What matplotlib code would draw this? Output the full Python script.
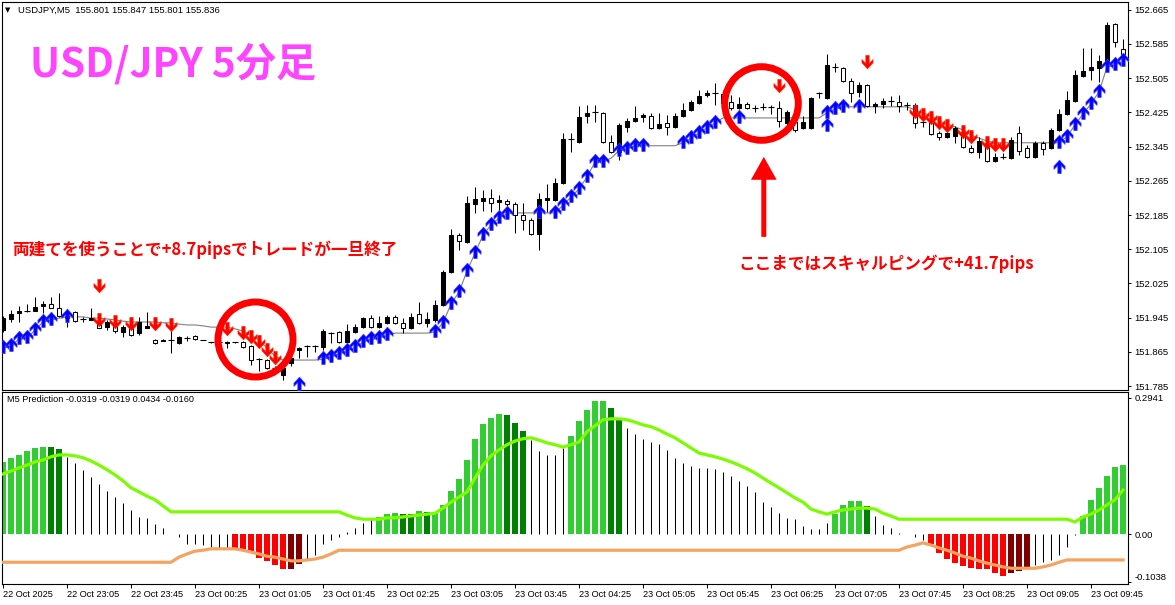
import numpy as np
import matplotlib.pyplot as plt
from matplotlib.path import Path

plt.rcParams['font.family'] = ['Liberation Sans', 'DejaVu Sans']

# ---- USDJPY M5 candles (bar index 0 = 22 Oct 22:25) ----
opens = [
    151.916, 151.942, 151.956, 151.961, 151.961, 151.972, 151.977, 151.968, 151.949, 151.958,
    151.942, 151.940, 151.937, 151.923, 151.933, 151.912, 151.923, 151.909, 151.921, 151.893,
    151.891, 151.893, 151.886, 151.897, 151.902, 151.893, 151.888, 151.888, 151.886, 151.888,
    151.888, 151.879, 151.848, 151.846, 151.827, 151.811, 151.839, 151.869, 151.879, 151.879,
    151.876, 151.909, 151.912, 151.888, 151.912, 151.923, 151.944, 151.923, 151.933, 151.947,
    151.933, 151.921, 151.954, 151.933, 151.940, 151.975, 152.052, 152.138, 152.122, 152.211,
    152.218, 152.225, 152.215, 152.218, 152.211, 152.185, 152.173, 152.141, 152.220, 152.220,
    152.260, 152.363, 152.356, 152.417, 152.426, 152.424, 152.356, 152.332, 152.391, 152.405,
    152.414, 152.417, 152.389, 152.400, 152.391, 152.417, 152.431, 152.447, 152.466, 152.470,
    152.468, 152.449, 152.435, 152.445, 152.435, 152.438, 152.438, 152.435, 152.400, 152.403,
    152.389, 152.389, 152.470, 152.459, 152.531, 152.529, 152.499, 152.473, 152.489, 152.440,
    152.445, 152.452, 152.449, 152.442, 152.442, 152.403, 152.403, 152.377, 152.368, 152.370,
    152.379, 152.342, 152.332, 152.354, 152.311, 152.321, 152.318, 152.377, 152.342, 152.321,
    152.354, 152.342, 152.384, 152.421, 152.452, 152.510, 152.524, 152.529, 152.543, 152.632, 152.573,
]
highs = [
    151.949, 151.963, 151.972, 151.977, 151.993, 151.984, 151.993, 152.003, 151.958, 151.961,
    151.947, 151.968, 151.951, 151.940, 151.940, 151.928, 151.928, 151.947, 151.958, 151.895,
    151.895, 151.916, 151.902, 151.902, 151.904, 151.894, 151.889, 151.889, 151.890, 151.889,
    151.890, 151.881, 151.851, 151.848, 151.832, 151.827, 151.855, 151.876, 151.881, 151.881,
    151.919, 151.912, 151.914, 151.930, 151.930, 151.947, 151.951, 151.949, 151.951, 151.951,
    151.944, 151.956, 151.982, 151.958, 151.986, 152.056, 152.152, 152.143, 152.230, 152.251,
    152.244, 152.246, 152.232, 152.222, 152.215, 152.213, 152.178, 152.237, 152.258, 152.272,
    152.377, 152.377, 152.440, 152.442, 152.442, 152.426, 152.372, 152.400, 152.412, 152.440,
    152.424, 152.424, 152.424, 152.419, 152.424, 152.447, 152.454, 152.477, 152.477, 152.494,
    152.477, 152.466, 152.461, 152.449, 152.442, 152.447, 152.442, 152.452, 152.431, 152.412,
    152.417, 152.461, 152.473, 152.562, 152.541, 152.531, 152.506, 152.496, 152.492, 152.449,
    152.459, 152.463, 152.466, 152.449, 152.447, 152.414, 152.407, 152.382, 152.382, 152.393,
    152.384, 152.349, 152.368, 152.356, 152.330, 152.330, 152.368, 152.393, 152.349, 152.358,
    152.358, 152.389, 152.433, 152.475, 152.524, 152.576, 152.576, 152.559, 152.637, 152.634, 152.597,
]
lows = [
    151.912, 151.935, 151.935, 151.958, 151.961, 151.956, 151.968, 151.947, 151.923, 151.935,
    151.935, 151.940, 151.921, 151.916, 151.909, 151.900, 151.902, 151.904, 151.921, 151.883,
    151.890, 151.862, 151.883, 151.890, 151.893, 151.892, 151.887, 151.887, 151.874, 151.887,
    151.874, 151.834, 151.820, 151.825, 151.818, 151.799, 151.832, 151.851, 151.853, 151.865,
    151.869, 151.886, 151.886, 151.886, 151.909, 151.921, 151.921, 151.921, 151.930, 151.930,
    151.909, 151.919, 151.930, 151.923, 151.935, 151.972, 152.049, 152.103, 152.120, 152.190,
    152.194, 152.192, 152.197, 152.206, 152.143, 152.150, 152.138, 152.103, 152.192, 152.218,
    152.258, 152.332, 152.354, 152.400, 152.403, 152.354, 152.330, 152.314, 152.379, 152.403,
    152.403, 152.386, 152.386, 152.372, 152.389, 152.414, 152.428, 152.445, 152.461, 152.442,
    152.445, 152.431, 152.433, 152.433, 152.426, 152.431, 152.421, 152.391, 152.389, 152.379,
    152.386, 152.386, 152.459, 152.456, 152.520, 152.496, 152.449, 152.461, 152.438, 152.424,
    152.435, 152.440, 152.426, 152.431, 152.389, 152.391, 152.372, 152.360, 152.365, 152.354,
    152.342, 152.330, 152.318, 152.309, 152.309, 152.316, 152.316, 152.325, 152.318, 152.318,
    152.325, 152.339, 152.382, 152.419, 152.449, 152.508, 152.501, 152.496, 152.541, 152.578, 152.555,
]
closes = [
    151.944, 151.954, 151.961, 151.961, 151.970, 151.977, 151.968, 151.949, 151.944, 151.937,
    151.942, 151.944, 151.921, 151.935, 151.914, 151.923, 151.904, 151.935, 151.926, 151.886,
    151.893, 151.893, 151.900, 151.897, 151.895, 151.893, 151.888, 151.888, 151.888, 151.888,
    151.876, 151.846, 151.848, 151.827, 151.827, 151.827, 151.851, 151.874, 151.879, 151.879,
    151.914, 151.909, 151.888, 151.914, 151.923, 151.944, 151.923, 151.933, 151.947, 151.933,
    151.921, 151.947, 151.933, 151.942, 151.975, 152.052, 152.138, 152.124, 152.213, 152.222,
    152.225, 152.213, 152.220, 152.211, 152.185, 152.173, 152.141, 152.222, 152.225, 152.260,
    152.363, 152.363, 152.414, 152.424, 152.426, 152.356, 152.332, 152.396, 152.405, 152.412,
    152.419, 152.389, 152.398, 152.391, 152.417, 152.431, 152.449, 152.463, 152.470, 152.470,
    152.447, 152.435, 152.445, 152.435, 152.435, 152.438, 152.438, 152.405, 152.426, 152.384,
    152.403, 152.459, 152.470, 152.536, 152.531, 152.499, 152.470, 152.489, 152.440, 152.445,
    152.452, 152.452, 152.440, 152.442, 152.400, 152.403, 152.375, 152.368, 152.377, 152.389,
    152.344, 152.332, 152.358, 152.311, 152.321, 152.321, 152.360, 152.335, 152.321, 152.354,
    152.339, 152.384, 152.421, 152.454, 152.513, 152.522, 152.531, 152.545, 152.630, 152.590, 152.562,
]

# grey trailing line
trail = [
    151.874, 151.879, 151.895, 151.897, 151.916, 151.935, 151.940, 151.944, 151.947, 151.947,
    151.947, 151.944, 151.944, 151.942, 151.940, 151.937, 151.935, 151.935, 151.935, 151.935,
    151.933, 151.933, 151.930, 151.928, 151.928, 151.926, 151.923, 151.923, 151.923, 151.919,
    151.914, 151.904, 151.893, 151.874, 151.855, 151.846, 151.846, 151.846, 151.846, 151.846,
    151.848, 151.853, 151.860, 151.867, 151.876, 151.888, 151.895, 151.897, 151.904, 151.909,
    151.909, 151.909, 151.909, 151.909, 151.912, 151.933, 151.977, 152.005, 152.054, 152.096,
    152.138, 152.162, 152.178, 152.188, 152.190, 152.190, 152.190, 152.190, 152.190, 152.190,
    152.208, 152.227, 152.246, 152.274, 152.309, 152.309, 152.318, 152.335, 152.339, 152.347,
    152.347, 152.347, 152.347, 152.347, 152.347, 152.354, 152.365, 152.377, 152.389, 152.400,
    152.412, 152.412, 152.412, 152.412, 152.412, 152.412, 152.412, 152.412, 152.412, 152.412,
    152.412, 152.412, 152.412, 152.424, 152.433, 152.438, 152.438, 152.438, 152.438, 152.438,
    152.438, 152.438, 152.438, 152.438, 152.431, 152.424, 152.417, 152.405, 152.398, 152.391,
    152.384, 152.372, 152.365, 152.358, 152.354, 152.354, 152.354, 152.354, 152.354, 152.354,
    152.354, 152.354, 152.354, 152.368, 152.396, 152.421, 152.445, 152.473, 152.531, 152.536, 152.545,
]

# bars carrying an arrow on the trailing line
buy_idx = [0, 1, 2, 3, 4, 5, 6, 8, 40, 41, 42, 43, 44, 45, 46, 47, 48,
           54, 55, 56, 57, 58, 59, 60, 61, 62, 63, 67, 69, 70, 71, 72, 73, 74, 75,
           77, 78, 79, 80, 85, 86, 87, 88, 89, 92, 103, 104, 105, 107,
           132, 133, 134, 135, 136, 137, 138, 139, 140]
sell_idx = [12, 14, 16, 19, 21, 28, 30, 31, 32, 33, 34,
            114, 115, 116, 117, 118, 120, 121, 123, 124, 125]
# separate signal arrows
sig_buy_idx = [37, 103, 132]
sig_buy_price = [151.787, 152.393, 152.295]
sig_sell_idx = [12, 97, 108]
sig_sell_price = [152.024, 152.492, 152.548]

# ---- M5 Prediction indicator ----
hist = [
    0.156, 0.165, 0.171, 0.180, 0.186, 0.188, 0.188, 0.184, 0.167, 0.154,
    0.139, 0.123, 0.108, 0.093, 0.080, 0.067, 0.052, 0.037, 0.035, 0.022,
    0.013, 0.001, -0.006, -0.022, -0.022, -0.024, -0.028, -0.030, -0.030, -0.030,
    -0.032, -0.039, -0.052, -0.058, -0.067, -0.076, -0.076, -0.065, -0.054, -0.045,
    -0.022, -0.013, -0.006, 0.004, 0.013, 0.024, 0.035, 0.037, 0.043, 0.045,
    0.043, 0.043, 0.050, 0.048, 0.048, 0.063, 0.093, 0.119, 0.160, 0.206,
    0.238, 0.251, 0.260, 0.258, 0.240, 0.223, 0.203, 0.180, 0.171, 0.171,
    0.186, 0.212, 0.245, 0.268, 0.288, 0.288, 0.273, 0.251, 0.229, 0.216,
    0.206, 0.199, 0.195, 0.182, 0.165, 0.154, 0.147, 0.143, 0.143, 0.141,
    0.134, 0.126, 0.115, 0.104, 0.091, 0.069, 0.058, 0.045, 0.035, 0.032,
    0.017, 0.011, 0.011, 0.024, 0.043, 0.063, 0.071, 0.071, 0.061, 0.039,
    0.019, 0.013, 0.002, 0.000, -0.006, -0.013, -0.022, -0.041, -0.054, -0.063,
    -0.069, -0.074, -0.076, -0.076, -0.084, -0.091, -0.084, -0.080, -0.071, -0.067,
    -0.061, -0.056, -0.045, -0.028, -0.002, 0.039, 0.074, 0.100, 0.126, 0.145, 0.149,
]
# g light green, G dark green, r red, R dark red, k thin black
hist_state = ('g' * 6 + 'G' * 2 + 'k' * 21 + 'r' * 7 + 'R' * 2 + 'k' * 9 + 'g' * 3 + 'G' * 2
              + 'g' + 'G' + 'g' * 9 + 'G' * 3 + 'k' * 5 + 'g' * 5 + 'G' * 2 + 'k' * 26
              + 'g' * 4 + 'G' + 'k' * 7 + 'r' * 10 + 'R' * 3 + 'k' * 6 + 'g' * 6)
green_line = ([0.130, 0.136, 0.143, 0.149, 0.156, 0.160, 0.167, 0.171, 0.171, 0.169,
               0.165, 0.158, 0.149, 0.139, 0.128, 0.115, 0.100, 0.091, 0.082, 0.074, 0.061]
              + [0.048] * 22
              + [0.041, 0.035, 0.032, 0.032, 0.032, 0.035, 0.035, 0.037, 0.039, 0.041, 0.043, 0.045]
              + [0.056, 0.069, 0.080, 0.091, 0.121, 0.149, 0.169, 0.182, 0.193, 0.201,
                 0.206, 0.208, 0.203, 0.197, 0.193, 0.188]
              + [0.193, 0.199, 0.221, 0.234, 0.247, 0.249, 0.249, 0.247, 0.242, 0.236,
                 0.232, 0.225, 0.216, 0.208, 0.197, 0.186, 0.175, 0.171, 0.167, 0.162]
              + [0.156, 0.149, 0.141, 0.132, 0.121, 0.110, 0.100, 0.089, 0.078, 0.069,
                 0.054, 0.048, 0.043, 0.048, 0.052, 0.054, 0.056, 0.056, 0.054, 0.045, 0.039]
              + [0.032] * 22
              + [0.026, 0.037, 0.043, 0.052, 0.063, 0.074, 0.095])
orange_line = ([-0.061] * 22
               + [-0.050, -0.043, -0.037, -0.035, -0.032, -0.032, -0.032, -0.032, -0.035, -0.039,
                  -0.043, -0.048, -0.050, -0.054, -0.058, -0.058, -0.056, -0.054, -0.050, -0.043, -0.035]
               + [-0.035] * 70
               + [-0.028, -0.024, -0.019, -0.024, -0.030, -0.035, -0.041, -0.048, -0.052, -0.058,
                  -0.063, -0.067, -0.071, -0.074, -0.074, -0.074, -0.074, -0.071, -0.067, -0.061, -0.056]
               + [-0.056] * 7)

price_ticks = [152.665, 152.585, 152.505, 152.425, 152.345, 152.265,
               152.185, 152.105, 152.025, 151.945, 151.865, 151.785]
ind_ticks = [0.2941, 0.0, -0.1038]
ind_tick_labels = ['0.2941', '0.00', '-0.1038']
time_tick_idx = list(range(0, 137, 8))
time_labels = ['22 Oct 2025', '22 Oct 23:05', '22 Oct 23:45', '23 Oct 00:25', '23 Oct 01:05',
               '23 Oct 01:45', '23 Oct 02:25', '23 Oct 03:05', '23 Oct 03:45', '23 Oct 04:25',
               '23 Oct 05:05', '23 Oct 05:45', '23 Oct 06:25', '23 Oct 07:05', '23 Oct 07:45',
               '23 Oct 08:25', '23 Oct 09:05', '23 Oct 09:45']

o = np.array(opens); h = np.array(highs); l = np.array(lows); c = np.array(closes)
x = np.arange(len(o))
tr = np.array(trail)

fig = plt.figure(figsize=(11.75, 6.05), dpi=100)
ax = fig.add_axes([2 / 1175, 215 / 605, 1126 / 1175, 388 / 605])
ax2 = fig.add_axes([2 / 1175, 21 / 605, 1126 / 1175, 192 / 605])

XL = (-0.125, 140.625)

# main chart
ax.plot(x, tr, color='#808080', lw=0.8, zorder=1)
ax.vlines(x, l, h, color='black', lw=0.75, zorder=2)
up = c > o
dn = c < o
fl = c == o
ax.bar(x[up], (c - o)[up], bottom=o[up], width=0.56, facecolor='black',
       edgecolor='black', lw=0.75, zorder=3)
ax.bar(x[dn], (o - c)[dn], bottom=c[dn], width=0.56, facecolor='white',
       edgecolor='black', lw=0.75, zorder=3)
ax.hlines(o[fl], x[fl] - 0.33, x[fl] + 0.33, color='black', lw=0.8, zorder=3)

# thick chevron arrow, anchor (0,0) sits on the line
up_verts = [(0, 0.75), (0.5, 0.2), (0.5, -0.08), (0.15, 0.27), (0.15, -0.45),
            (-0.15, -0.45), (-0.15, 0.27), (-0.5, -0.08), (-0.5, 0.2), (0, 0.75)]
up_mk = Path(up_verts, closed=True)
dn_mk = Path([(vx, -vy) for vx, vy in up_verts], closed=True)

arrow_kw = dict(ls='none', ms=12, mew=0.5, zorder=4)
ax.plot(x[buy_idx], tr[buy_idx], marker=up_mk, color='#0000ff', mec='#3c3cff', **arrow_kw)
ax.plot(x[sell_idx], tr[sell_idx], marker=dn_mk, color='#ff0000', mec='#ff2a00', **arrow_kw)
ax.plot(sig_buy_idx, sig_buy_price, marker=up_mk, color='#0000ff', mec='#3c3cff', **arrow_kw)
ax.plot(sig_sell_idx, sig_sell_price, marker=dn_mk, color='#ff0000', mec='#ff2a00', **arrow_kw)

# annotations
ax.plot([31.5], [151.895], marker='o', ms=54, mfc='none', mec='#ff0000', mew=5, zorder=6)
ax.plot([94.7], [152.446], marker='o', ms=53, mfc='none', mec='#ff0000', mew=5, zorder=6)
ax.annotate('', xy=(95.1, 152.321), xytext=(95.1, 152.134),
            arrowprops=dict(facecolor='#ff0000', edgecolor='none', width=3.6,
                            headwidth=18.5, headlength=16.5, shrink=0), zorder=6)

cjk = ['Noto Sans CJK JP', 'DejaVu Sans']
fig.text(30 / 1175, 1 - 77 / 605, 'USD/JPY 5分足', fontsize=29, color='#ff44ff',
         weight='bold', family=cjk, ha='left', va='baseline')
fig.text(12 / 1175, 1 - 250 / 605, '両建てを使うことで+8.7pipsでトレードが一旦終了',
         fontsize=12, color='#ff0000', weight='bold', family=cjk, ha='left', va='center')
fig.text(738 / 1175, 1 - 264 / 605, 'ここまではスキャルピングで+41.7pips',
         fontsize=12, color='#ff0000', weight='bold', family=cjk, ha='left', va='center')
fig.text(5 / 1175, 1 - 10 / 605, '▼', fontsize=5, family=['DejaVu Sans'], va='center')
fig.text(18 / 1175, 1 - 10 / 605, 'USDJPY,M5  155.801 155.847 155.801 155.836',
         fontsize=6.8, va='center')

ax.set_xlim(*XL)
ax.set_ylim(151.776, 152.683)
ax.set_xticks([])
ax.yaxis.tick_right()
ax.set_yticks(price_ticks)
ax.set_yticklabels(['%.3f' % p for p in price_ticks])
ax.tick_params(axis='y', direction='out', length=2.5, width=0.7, pad=2, labelsize=6.8)

# indicator
hv = np.array(hist)
st = np.array(list(hist_state))
colors = {'g': '#32cd32', 'G': '#008000', 'r': '#ff0000', 'R': '#800000'}
for key, col in colors.items():
    m = st == key
    ax2.bar(x[m], hv[m], width=0.82, color=col, zorder=2)
mk = st == 'k'
ax2.vlines(x[mk], 0, hv[mk], color='black', lw=0.75, zorder=2)
ax2.plot(x, green_line, color='#7cfc00', lw=2.3, zorder=3)
ax2.plot(x, orange_line, color='#f4a460', lw=2.3, zorder=3)

ax2.set_xlim(*XL)
ax2.set_ylim(-0.108, 0.307)
ax2.yaxis.tick_right()
ax2.set_yticks(ind_ticks)
ax2.set_yticklabels(ind_tick_labels)
ax2.tick_params(axis='y', direction='out', length=2.5, width=0.7, pad=2, labelsize=6.8)
ax2.get_yticklabels()[2].set_va('bottom')
ax2.set_xticks(time_tick_idx)
ax2.set_xticklabels(time_labels, ha='left')
ax2.tick_params(axis='x', direction='out', length=3, width=0.7, pad=1.5, labelsize=6.6)
ax2.text(0.004, 0.985, 'M5 Prediction -0.0319 -0.0319 0.0434 -0.0160', transform=ax2.transAxes,
         fontsize=6.6, va='top', ha='left')

for a in (ax, ax2):
    for s in a.spines.values():
        s.set_linewidth(0.8)
        s.set_color('black')

fig.savefig('out.png', dpi=100)
